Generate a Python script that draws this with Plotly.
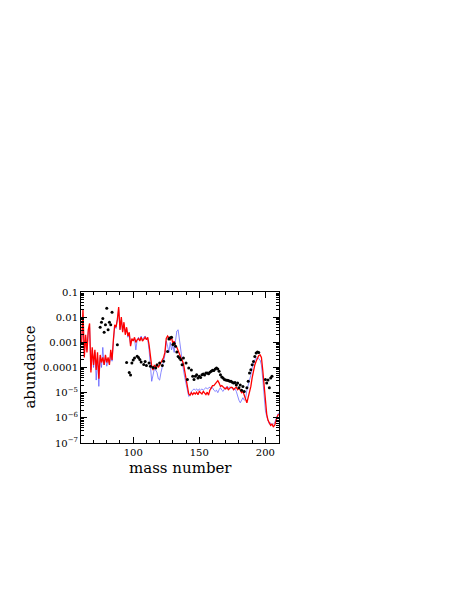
import plotly.graph_objects as go

# ---------------- data (log10 abundance) ----------------
mass_lines = list(range(61, 211))

red_log10 = [
    -3.0, -1.7, -3.6, -2.7, -3.4, -2.5, -2.25, -4.2, -3.2, -3.9,          # 61-70
    -3.3, -4.1, -3.4, -4.45, -3.5, -3.8, -3.6, -3.9, -3.5, -3.8,          # 71-80
    -3.6, -3.9, -3.3, -3.7, -2.9, -2.3, -2.4, -2.1, -1.6, -2.5,           # 81-90
    -2.0, -2.6, -2.2, -2.7, -2.4, -2.75, -2.6, -3.15, -2.85, -2.95,       # 91-100
    -2.8, -3.0, -2.9, -2.85, -2.95, -2.8, -2.95, -2.85, -2.8, -2.9,       # 101-110
    -2.8, -3.1, -3.65, -3.95, -4.1, -3.9, -4.0, -3.85, -4.0, -3.9,        # 111-120
    -3.85, -3.7, -3.6, -3.4, -2.85, -2.75, -2.85, -2.9, -2.8, -3.05,      # 121-130
    -2.95, -3.15, -3.2, -3.35, -3.5, -3.6, -3.7, -3.85, -4.15, -4.45,     # 131-140
    -4.75, -5.05, -5.1, -5.0, -5.08, -5.0, -5.05, -4.98, -5.08, -4.95,    # 141-150
    -5.0, -5.05, -4.95, -5.0, -5.08, -4.98, -5.1, -4.9, -4.78, -4.72,     # 151-160
    -4.72, -4.65, -4.6, -4.52, -4.62, -4.75, -4.72, -4.78, -4.82, -4.85,  # 161-170
    -4.78, -4.88, -4.82, -4.78, -4.8, -4.88, -4.82, -4.78, -4.88, -4.82,  # 171-180
    -4.9, -5.0, -4.95, -5.15, -5.25, -5.4, -5.2, -5.0, -4.75, -4.4,       # 181-190
    -4.1, -3.9, -3.75, -3.6, -3.52, -3.5, -3.6, -4.1, -4.7, -5.3,         # 191-200
    -5.85, -6.1, -6.2, -6.3, -6.25, -6.35, -6.3, -6.1, -5.95, -5.85,      # 201-210
]

blue_log10 = [
    -2.9, -2.2, -3.5, -2.8, -3.3, -2.6, -2.4, -4.1, -3.3, -4.0,           # 61-70
    -3.4, -4.5, -3.6, -4.75, -3.6, -4.0, -3.2, -3.9, -3.6, -3.95,         # 71-80
    -3.7, -3.85, -3.5, -3.75, -3.0, -2.35, -2.45, -2.15, -1.7, -2.5,      # 81-90
    -2.1, -2.55, -2.3, -2.6, -2.45, -2.8, -2.65, -3.1, -2.9, -2.9,        # 91-100
    -2.85, -3.3, -2.9, -2.8, -2.9, -2.75, -2.9, -2.8, -2.75, -2.85,       # 101-110
    -2.9, -3.3, -4.0, -4.55, -4.3, -4.05, -4.1, -4.2, -4.45, -4.5,        # 111-120
    -4.2, -3.9, -3.75, -3.5, -2.95, -3.15, -3.4, -3.0, -3.3, -3.1,        # 121-130
    -3.4, -2.95, -2.55, -2.5, -2.9, -3.5, -3.9, -4.1, -4.4, -4.7,         # 131-140
    -5.0, -5.15, -5.1, -4.95, -4.9, -4.85, -4.9, -4.85, -4.92, -4.85,     # 141-150
    -4.9, -4.85, -4.9, -4.85, -4.8, -4.85, -4.8, -4.78, -4.85, -4.8,      # 151-160
    -4.9, -4.95, -4.9, -5.0, -4.88, -4.8, -4.9, -4.95, -4.85, -4.8,       # 161-170
    -4.75, -4.8, -4.78, -4.82, -4.8, -4.9, -4.85, -4.95, -5.15, -5.3,     # 171-180
    -5.4, -5.3, -5.2, -5.3, -5.25, -4.9, -4.7, -4.55, -4.3, -4.0,         # 181-190
    -3.8, -3.7, -3.62, -3.62, -3.65, -3.7, -3.9, -4.45, -5.2, -5.7,       # 191-200
    -5.95, -6.15, -6.25, -6.2, -6.3, -6.25, -6.2, -6.05, -5.95, -5.8,     # 201-210
]

dot_mass = [75, 76, 77, 78, 79, 80, 81, 82, 83, 84, 88, 95, 97, 98,
            99, 100, 101, 103, 104, 105, 106, 108, 109, 110, 112, 113, 115, 117, 118, 120,
            122, 123, 126, 127, 128, 129, 130, 131, 132, 133, 134, 135, 136, 137,
            138, 140, 141, 142, 144, 145, 146, 147, 148, 149, 150, 151, 152, 153, 154, 155,
            156, 157, 158, 159, 160, 161, 162, 163, 164, 165, 166, 167, 168, 169, 170, 171,
            172, 173, 174, 175, 176, 177, 178, 179, 180, 181, 182, 183, 184, 186,
            187, 188, 189, 190, 191, 192, 193, 194, 195, 200, 201, 202, 203, 204, 205]
dot_log10 = [-2.4, -2.2, -2.05, -2.6, -2.3, -1.65, -2.5, -2.2, -2.3, -1.8, -3.1, -3.8, -4.2, -4.3,
             -3.82, -3.7, -3.62, -3.55, -3.6, -3.68, -3.78, -3.88, -3.76, -3.92, -3.82, -3.95, -4.0, -4.02, -3.9, -3.82,
             -3.92, -3.75, -3.36, -2.87, -2.82, -2.8, -3.09, -3.05, -3.16, -3.38, -3.56, -3.62, -3.69, -3.89,
             -3.62, -3.82, -4.48, -4.02, -4.1, -4.35, -4.48, -4.35, -4.29, -4.42, -4.35, -4.4, -4.29, -4.26, -4.3, -4.22,
             -4.22, -4.25, -4.19, -4.15, -4.11, -4.12, -4.06, -4.02, -4.06, -4.15, -4.29, -4.38, -4.42, -4.48, -4.5, -4.51,
             -4.52, -4.55, -4.55, -4.59, -4.62, -4.6, -4.7, -4.62, -4.8, -4.7, -4.9, -4.75, -4.95, -4.8,
             -4.55, -4.22, -4.09, -3.89, -3.76, -3.56, -3.42, -3.38, -3.4, -4.48, -4.62, -4.5, -4.8, -4.42, -4.35]

red_vals = [10 ** v for v in red_log10]
blue_vals = [10 ** v for v in blue_log10]
dot_vals = [10 ** v for v in dot_log10]

y_tickvals = [1e-7, 1e-6, 1e-5, 1e-4, 1e-3, 1e-2, 1e-1]
y_ticktext = ["10<sup>\u22127</sup>", "10<sup>\u22126</sup>", "10<sup>\u22125</sup>",
              "0.0001", "0.001", "0.01", "0.1"]
y_minor = [m * 10 ** e for e in range(-7, -1) for m in range(2, 10)]
x_tickvals = [100, 150, 200]
x_minor = [70, 80, 90, 110, 120, 130, 140, 160, 170, 180, 190, 210]

FONT = "DejaVu Serif"

fig = go.Figure()
fig.add_trace(go.Scatter(x=mass_lines, y=blue_vals, mode="lines",
                         line=dict(color="rgba(70,70,255,0.8)", width=0.8)))
fig.add_trace(go.Scatter(x=mass_lines, y=red_vals, mode="lines",
                         line=dict(color="#ff0000", width=1.3)))
fig.add_trace(go.Scatter(x=dot_mass, y=dot_vals, mode="markers",
                         marker=dict(color="black", size=3, line=dict(width=0))))

axis_common = dict(showline=True, linecolor="black", linewidth=1, mirror="allticks",
                   ticks="inside", ticklen=6, tickwidth=1, tickcolor="black",
                   showgrid=False, zeroline=False,
                   tickfont=dict(family=FONT, size=10, color="black"))

fig.update_xaxes(range=[60.5, 210.3], tickmode="array", tickvals=x_tickvals,
                 minor=dict(tickvals=x_minor, ticks="inside", ticklen=3, tickcolor="black", showgrid=False),
                 **axis_common)
fig.update_yaxes(type="log", range=[-7, -1], tickmode="array", tickvals=y_tickvals,
                 ticktext=y_ticktext,
                 minor=dict(tickvals=y_minor, ticks="inside", ticklen=3, tickcolor="black", showgrid=False),
                 **axis_common)

# page body adds an 8 px margin, so the figure is 8 px smaller and shifted
fig.update_layout(
    width=455, height=591,
    margin=dict(l=73, r=184, t=284, b=156, pad=0),
    paper_bgcolor="white", plot_bgcolor="white",
    showlegend=False,
    font=dict(family=FONT, color="black"),
    annotations=[
        dict(text="mass number", xref="paper", yref="paper", x=0.5, y=-0.165,
             xanchor="center", yanchor="middle", showarrow=False,
             font=dict(family=FONT, size=15, color="black")),
        dict(text="abundance", xref="paper", yref="paper", x=-0.262, y=0.5,
             xanchor="center", yanchor="middle", textangle=-90, showarrow=False,
             font=dict(family=FONT, size=15, color="black")),
    ],
)

fig.write_html("out.html")
